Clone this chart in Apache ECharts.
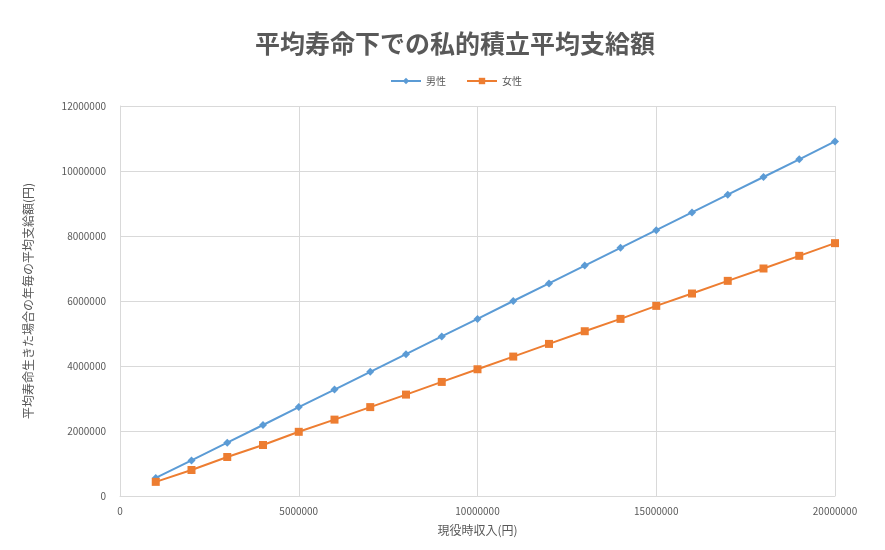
<!DOCTYPE html>
<html>
<head>
<meta charset="utf-8">
<script src="https://cdn.jsdelivr.net/npm/echarts@6/dist/echarts.min.js"></script>
<style>
  html, body { margin: 0; padding: 0; background: #fff; }
  #chart { width: 885px; height: 550px; }
</style>
</head>
<body>
<div id="chart"></div>
<script>
// 現役時収入(円)
const incomes = [1000000, 2000000, 3000000, 4000000, 5000000, 6000000, 7000000, 8000000, 9000000, 10000000,
  11000000, 12000000, 13000000, 14000000, 15000000, 16000000, 17000000, 18000000, 19000000, 20000000]
// 男性 / 女性 の平均支給額
const maleValues = [555000, 1095000, 1640000, 2185000, 2735000, 3275000, 3820000, 4365000, 4910000, 5450000,
  6000000, 6540000, 7090000, 7635000, 8180000, 8725000, 9270000, 9815000, 10360000, 10910000]
const femaleValues = [435000, 800000, 1200000, 1570000, 1975000, 2350000, 2735000, 3120000, 3510000, 3900000,
  4290000, 4680000, 5070000, 5450000, 5850000, 6230000, 6620000, 7000000, 7390000, 7780000]

const font = "'Noto Sans CJK JP', 'Noto Sans', sans-serif"
const gridColor = '#d9d9d9'
const textColor = '#595959'

const chart = echarts.init(document.getElementById('chart'))

chart.setOption({
  animation: false,
  textStyle: { fontFamily: font },
  title: {
    text: '平均寿命下での私的積立平均支給額',
    left: 450,
    textAlign: 'center',
    top: 26,
    textStyle: { fontSize: 25, fontWeight: 'bold', color: textColor, fontFamily: font }
  },
  legend: {
    top: 71,
    left: 385,
    itemWidth: 30,
    itemHeight: 8,
    itemGap: 20,
    textStyle: { fontSize: 10, color: textColor },
    data: ['男性', '女性']
  },
  grid: {
    left: 120,
    right: 50,
    top: 106,
    bottom: 54
  },
  xAxis: {
    type: 'value',
    min: 0,
    max: 20000000,
    interval: 5000000,
    name: '現役時収入(円)',
    nameLocation: 'middle',
    nameGap: 28,
    nameTextStyle: { fontSize: 12, color: textColor },
    axisLine: { show: true, lineStyle: { color: gridColor } },
    axisTick: { show: false },
    axisLabel: { fontSize: 10, color: textColor, margin: 10, formatter: v => String(v) },
    splitLine: { show: true, lineStyle: { color: gridColor } }
  },
  yAxis: {
    type: 'value',
    min: 0,
    max: 12000000,
    interval: 2000000,
    name: '平均寿命生きた場合の年毎の平均支給額(円)',
    nameLocation: 'middle',
    nameGap: 86,
    nameTextStyle: { fontSize: 12, color: textColor },
    axisLine: { show: true, lineStyle: { color: gridColor } },
    axisTick: { show: false },
    axisLabel: { fontSize: 10, color: textColor, margin: 14, formatter: v => String(v) },
    splitLine: { show: true, lineStyle: { color: gridColor } }
  },
  series: [
    {
      name: '男性',
      type: 'line',
      data: incomes.map((x, i) => [x, maleValues[i]]),
      symbol: 'diamond',
      symbolSize: 8,
      lineStyle: { color: '#5B9BD5', width: 2 },
      itemStyle: { color: '#5B9BD5' }
    },
    {
      name: '女性',
      type: 'line',
      data: incomes.map((x, i) => [x, femaleValues[i]]),
      symbol: 'rect',
      symbolSize: 8,
      lineStyle: { color: '#ED7D31', width: 2 },
      itemStyle: { color: '#ED7D31' }
    }
  ]
})
</script>
</body>
</html>
